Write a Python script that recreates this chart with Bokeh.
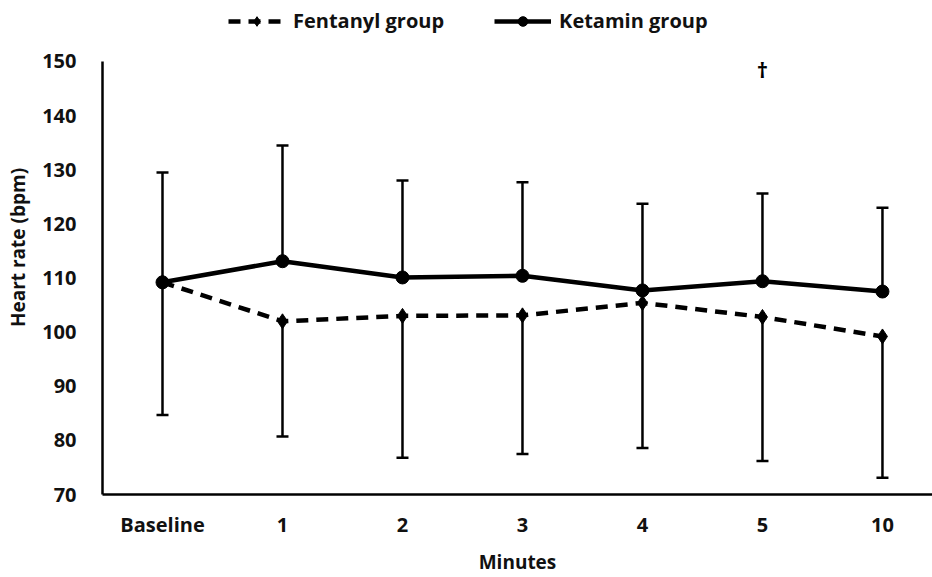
from bokeh.plotting import figure
from bokeh.models import (ColumnDataSource, Range1d, FixedTicker, Whisker, TeeHead,
                          Legend, LegendItem)
from bokeh.core.properties import value
from bokeh.embed import file_html
from bokeh.resources import INLINE

categories = ["Baseline", "1", "2", "3", "4", "5", "10"]
ketamin_mean = [109.2, 113.1, 110.1, 110.4, 107.7, 109.4, 107.5]
ketamin_upper = [129.5, 134.5, 128.0, 127.7, 123.7, 125.6, 123.0]
fentanyl_mean = [109.2, 102.0, 103.0, 103.1, 105.4, 102.8, 99.2]
fentanyl_lower = [84.7, 80.7, 76.8, 77.5, 78.6, 76.2, 73.1]
y_ticks = [70, 80, 90, 100, 110, 120, 130, 140, 150]
y_min, y_max = 70, 150
dagger_category = "5"
dagger_y = 148.6

FONT = "Open Sans"
xpos = [i + 0.5 for i in range(len(categories))]

# headroom above the axis top leaves space for the legend inside the frame
p = figure(width=932, height=577, output_backend="svg", toolbar_location=None,
           x_range=Range1d(0, 6.917), y_range=Range1d(y_min, y_max + 11.27),
           min_border_left=102, min_border_right=0, min_border_top=0, min_border_bottom=83)
p.outline_line_color = None
p.grid.visible = False
p.background_fill_color = "white"

ks = ColumnDataSource(dict(x=xpos, m=ketamin_mean, u=ketamin_upper))
fs = ColumnDataSource(dict(x=xpos, m=fentanyl_mean, l=fentanyl_lower))

wk = Whisker(source=ks, base="x", lower="m", upper="u", dimension="height",
             line_color="black", line_width=2.5, lower_head=None,
             upper_head=TeeHead(size=12, line_width=2.5, line_color="black"), level="underlay")
wf = Whisker(source=fs, base="x", lower="l", upper="m", dimension="height",
             line_color="black", line_width=2.5, upper_head=None,
             lower_head=TeeHead(size=12, line_width=2.5, line_color="black"), level="underlay")
p.add_layout(wk)
p.add_layout(wf)

fl = p.line("x", "m", source=fs, line_color="black", line_width=4.5, line_dash="12 8")
fm = p.scatter("x", "m", source=fs, marker="diamond", size=15, color="black")
kl = p.line("x", "m", source=ks, line_color="black", line_width=4.5)
km = p.scatter("x", "m", source=ks, marker="circle", size=13, color="black")

p.text(x=[xpos[categories.index(dagger_category)]], y=[dagger_y], text=["†"],
       text_font=value(FONT), text_font_style="bold", text_font_size="22px",
       text_align="center", text_baseline="middle", text_color="black")

for ax in (p.xaxis[0], p.yaxis[0]):
    ax.axis_line_color = "black"
    ax.axis_line_width = 2.5
    ax.major_tick_line_color = None
    ax.minor_tick_line_color = None
    ax.major_label_text_font = FONT
    ax.major_label_text_font_style = "bold"
    ax.major_label_text_font_size = "20px"
    ax.major_label_text_color = "#111111"
    ax.axis_label_text_font = FONT
    ax.axis_label_text_font_style = "bold"
    ax.axis_label_text_font_size = "19px"
    ax.axis_label_text_color = "#111111"

p.xaxis.ticker = FixedTicker(ticks=xpos)
p.xaxis.major_label_overrides = {x: c for x, c in zip(xpos, categories)}
p.xaxis.major_label_standoff = 10
p.xaxis.axis_label = "Minutes"
p.xaxis.axis_label_standoff = 8

p.yaxis.ticker = FixedTicker(ticks=y_ticks)
p.yaxis.bounds = (y_min, y_max)
p.yaxis.major_label_standoff = 20
p.yaxis.axis_label = "Heart rate (bpm)"
p.yaxis.axis_label_standoff = 8

legend = Legend(items=[LegendItem(label="Fentanyl group", renderers=[fl, fm]),
                       LegendItem(label="Ketamin group", renderers=[kl, km])],
                orientation="horizontal", location=(126, 460),
                label_text_font=FONT, label_text_font_style="bold",
                label_text_font_size="20px", label_text_color="#111111",
                glyph_width=57, glyph_height=24, label_standoff=8, spacing=50,
                padding=0, margin=0,
                border_line_color=None, background_fill_alpha=0)
p.add_layout(legend, "center")

open("out.html", "w").write(file_html(p, INLINE))
